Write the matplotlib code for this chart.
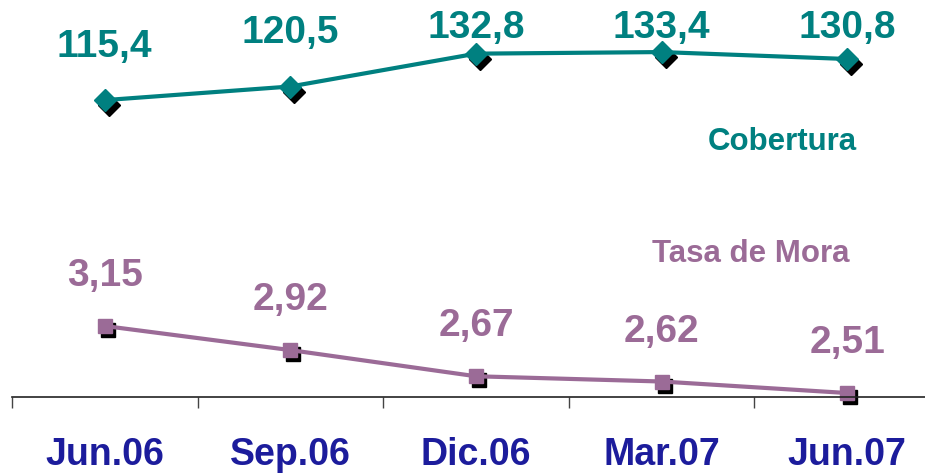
import matplotlib
matplotlib.use("Agg")
import matplotlib.pyplot as plt
from matplotlib.transforms import offset_copy

plt.rcParams['font.family'] = ['Liberation Sans', 'DejaVu Sans']
plt.rcParams['font.weight'] = 'bold'

periods = ["Jun.06", "Sep.06", "Dic.06", "Mar.07", "Jun.07"]
cobertura = [115.4, 120.5, 132.8, 133.4, 130.8]
tasa_mora = [3.15, 2.92, 2.67, 2.62, 2.51]

TEAL = "#008080"
PURPLE = "#9b6b97"
BLUE = "#1c1c9c"

W, H, DPI = 925, 473, 100
fig = plt.figure(figsize=(W / DPI, H / DPI), dpi=DPI)

# axes spans from the top of the figure down to the category axis line
left_px, right_px, bottom_px = 12, 940, 397
ax = fig.add_axes([left_px / W, (H - bottom_px) / H,
                   (right_px - left_px) / W, bottom_px / H])
ax2 = ax.twinx()

x = list(range(len(periods)))
ax.set_xlim(-0.5, len(periods) - 0.5)
ax.set_ylim(2.472, 6.264)       # Tasa de Mora scale
ax2.set_ylim(4.2, 152.9)        # Cobertura scale

for a in (ax, ax2):
    for s in a.spines.values():
        s.set_visible(False)
    a.set_yticks([])
    a.patch.set_visible(False)

ax.spines['bottom'].set_visible(True)
ax.spines['bottom'].set_color('#222222')
ax.spines['bottom'].set_linewidth(1.2)
ax.set_xticks([i - 0.5 for i in range(len(periods) + 1)])
ax.set_xticklabels([])
ax.tick_params(axis='x', direction='out', length=8, width=1.0, color='#444444')
for i, p in enumerate(periods):
    ax.text(i, -58 / bottom_px, p, transform=ax.get_xaxis_transform(),
            ha='center', va='center', fontsize=27, fontweight='bold',
            color=BLUE, clip_on=False)

# Tasa de Mora: shadowed square markers
sh_m = offset_copy(ax.transData, fig=fig, x=3, y=-4, units='dots')
ax.plot(x, tasa_mora, linestyle='none', marker='s', markersize=10,
        color='black', transform=sh_m, clip_on=False)
ax.plot(x, tasa_mora, color=PURPLE, linewidth=3, marker='s', markersize=10,
        markerfacecolor=PURPLE, markeredgecolor=PURPLE, clip_on=False)
for xi, v in zip(x, tasa_mora):
    ax.annotate(f"{v:.2f}".replace('.', ','), (xi, v), xytext=(0, 36),
                textcoords='offset points', ha='center', va='center',
                fontsize=28, fontweight='bold', color=PURPLE)

# Cobertura: shadowed diamond markers
sh_c = offset_copy(ax2.transData, fig=fig, x=4, y=-5, units='dots')
ax2.plot(x, cobertura, linestyle='none', marker='D', markersize=11,
         color='black', transform=sh_c, clip_on=False)
ax2.plot(x, cobertura, color=TEAL, linewidth=3, marker='D', markersize=11,
         markerfacecolor=TEAL, markeredgecolor=TEAL, clip_on=False)
for xi, v in zip(x, cobertura):
    ly = min(v + 19.9, 142.4)
    ax2.text(xi, ly, f"{v:.1f}".replace('.', ','), ha='center', va='center',
             fontsize=28, fontweight='bold', color=TEAL)

fig.text(782 / W, 1 - 142 / H, "Cobertura", ha='center', va='center',
         fontsize=22.5, fontweight='bold', color=TEAL)
fig.text(751 / W, 1 - 254 / H, "Tasa de Mora", ha='center', va='center',
         fontsize=22.5, fontweight='bold', color=PURPLE)

fig.savefig("out.png", dpi=DPI)
